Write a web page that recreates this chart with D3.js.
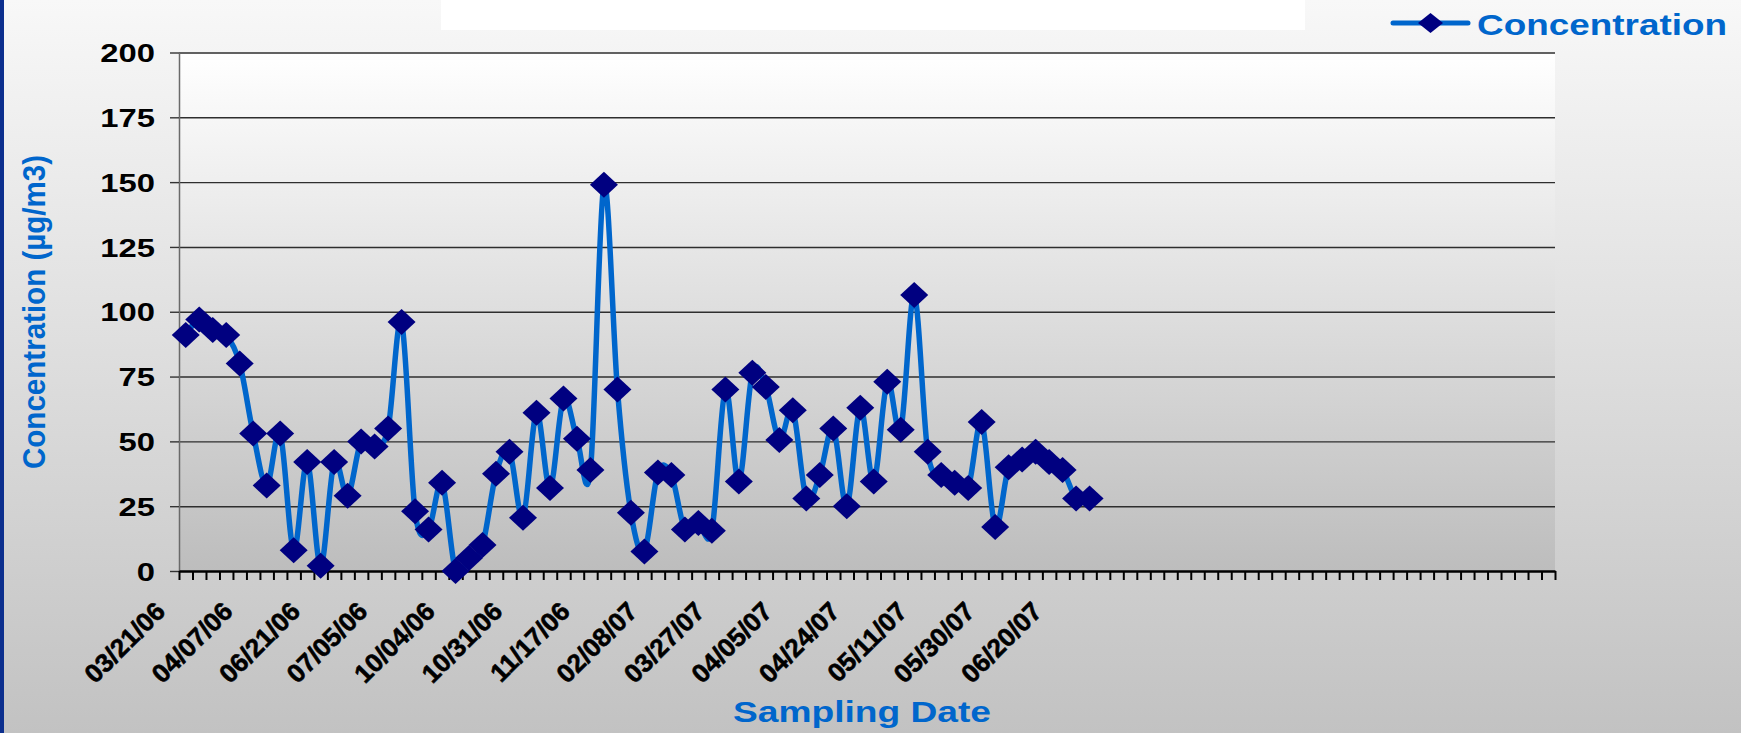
<!DOCTYPE html>
<html>
<head>
<meta charset="utf-8">
<script src="https://cdn.jsdelivr.net/npm/d3@7"></script>
<style>
  html, body { margin: 0; padding: 0; overflow: hidden; background: #d8d8d8; }
  svg { display: block; }
  text { font-family: "Liberation Sans", Arial, Helvetica, sans-serif; font-weight: bold; }
</style>
</head>
<body>
<svg id="chart" width="1741" height="733"></svg>
<script>
// Measured concentrations (µg/m3), one per sampling run, in sampling order
const concentration = [
  91, 97, 93, 91, 80, 53, 33, 53, 8, 42,
  2, 42, 29, 50, 48, 55, 96, 23, 16, 34,
  0, 5, 10, 37.5, 46, 20.5, 61, 32, 66.5, 51,
  39, 149, 70, 22.5, 7.5, 38, 37, 16, 18.5, 15.5,
  70, 34.5, 76.5, 71, 50.5, 62, 28, 37, 55, 25,
  63, 34.5, 73, 54.5, 106.5, 46, 37, 34, 32, 57.5,
  17, 40, 43, 46, 42, 39, 28, 28
];

// The worksheet range behind the category axis keeps empty rows after the last sample
const categorySlots = 102;

// Every fifth sampling date is printed under the axis
const dateLabels = [
  "03/21/06", "04/07/06", "06/21/06", "07/05/06", "10/04/06", "10/31/06", "11/17/06",
  "02/08/07", "03/27/07", "04/05/07", "04/24/07", "05/11/07", "05/30/07", "06/20/07"
];
const labelStep = 5;

const yTicks = [0, 25, 50, 75, 100, 125, 150, 175, 200];

const seriesName = "Concentration";
const xTitle = "Sampling Date";
const yTitle = "Concentration (µg/m3)";

// ---- layout ----
const W = 1741, H = 733;
const plot = { left: 179, right: 1555, top: 52.5, bottom: 571 };
const lineBlue = "#0066cc";
const markerNavy = "#000080";

const svg = d3.select("#chart");
const defs = svg.append("defs");

const bgGrad = defs.append("linearGradient").attr("id", "bgGrad")
  .attr("x1", 0).attr("y1", 0).attr("x2", 0).attr("y2", 1);
bgGrad.append("stop").attr("offset", "0%").attr("stop-color", "#f8f8f8");
bgGrad.append("stop").attr("offset", "100%").attr("stop-color", "#c2c2c2");

const plotGrad = defs.append("linearGradient").attr("id", "plotGrad")
  .attr("x1", 0).attr("y1", 0).attr("x2", 0).attr("y2", 1);
plotGrad.append("stop").attr("offset", "0%").attr("stop-color", "#ffffff");
plotGrad.append("stop").attr("offset", "100%").attr("stop-color", "#bdbdbd");

// slide background
svg.append("rect").attr("width", W).attr("height", H).attr("fill", "url(#bgGrad)");
svg.append("rect").attr("x", 0).attr("y", 0).attr("width", 4).attr("height", H).attr("fill", "#0c2f8e");
svg.append("rect").attr("x", 441).attr("y", 0).attr("width", 864).attr("height", 30).attr("fill", "#ffffff");

// ---- scales ----
const slots = d3.range(categorySlots);
const x = d3.scaleBand().domain(slots).range([plot.left, plot.right]).paddingInner(0).paddingOuter(0);
const xEdge = d3.scaleLinear().domain([0, categorySlots]).range([plot.left, plot.right]);
const y = d3.scaleLinear().domain([0, 200]).range([plot.bottom, plot.top]);

// plot area
svg.append("rect")
  .attr("x", plot.left).attr("y", plot.top)
  .attr("width", plot.right - plot.left).attr("height", plot.bottom - plot.top)
  .attr("fill", "url(#plotGrad)");

// horizontal gridlines
const grid = svg.append("g")
  .attr("transform", `translate(${plot.left},0)`)
  .call(d3.axisLeft(y).tickValues(yTicks.filter(v => v > 0)).tickSize(-(plot.right - plot.left)).tickFormat(""));
grid.select(".domain").remove();
grid.selectAll(".tick line").attr("stroke", "#2e2e2e").attr("stroke-width", 1.4);

// value axis
const yAxis = svg.append("g")
  .attr("transform", `translate(${plot.left},0)`)
  .call(d3.axisLeft(y).tickValues(yTicks).tickSize(9).tickPadding(0).tickSizeOuter(0));
yAxis.select(".domain").attr("stroke", "#6a6a6a").attr("stroke-width", 1.5);
yAxis.selectAll(".tick line").attr("stroke", "#333").attr("stroke-width", 1.4);
yAxis.selectAll(".tick text")
  .attr("fill", "#000")
  .attr("font-size", 25.6)
  .attr("text-anchor", "end")
  .attr("x", -24 / 1.28)
  .attr("dy", "0.36em")
  .attr("transform", "scale(1.28,1)");

// category axis: tick marks sit between categories
const xTicksAxis = svg.append("g")
  .attr("transform", `translate(0,${plot.bottom})`)
  .call(d3.axisBottom(xEdge).tickValues(d3.range(categorySlots + 1)).tickSize(9).tickSizeOuter(0).tickFormat(""));
xTicksAxis.select(".domain").attr("stroke", "#000").attr("stroke-width", 2.6);
xTicksAxis.selectAll(".tick line").attr("stroke", "#000").attr("stroke-width", 2);

// rotated date labels, heavy black type
const labelIdx = dateLabels.map((d, i) => i * labelStep);
const xLabels = svg.append("g")
  .attr("transform", `translate(0,${plot.bottom})`)
  .call(d3.axisBottom(x).tickValues(labelIdx).tickSize(0)
    .tickFormat(i => dateLabels[i / labelStep]));
xLabels.select(".domain").remove();
xLabels.selectAll(".tick text")
  .attr("fill", "#000")
  .attr("stroke", "#000")
  .attr("stroke-width", 0.6)
  .attr("font-size", 26)
  .attr("x", 0).attr("y", 0).attr("dy", 0)
  .attr("text-anchor", "end")
  .attr("transform", "translate(-19,42) rotate(-45)");

// ---- series ----
const pts = concentration.map((v, i) => ({ i, v }));
const line = d3.line()
  .x(d => x(d.i) + x.bandwidth() / 2)
  .y(d => y(d.v))
  .curve(d3.curveCatmullRom.alpha(0));

svg.append("path")
  .datum(pts)
  .attr("fill", "none")
  .attr("stroke", lineBlue)
  .attr("stroke-width", 5.5)
  .attr("stroke-linejoin", "round")
  .attr("d", line);

const diamond = (w, h) => `M0,${-h / 2}L${w / 2},0L0,${h / 2}L${-w / 2},0Z`;

svg.append("g").selectAll("path")
  .data(pts)
  .join("path")
  .attr("transform", d => `translate(${x(d.i) + x.bandwidth() / 2},${y(d.v)})`)
  .attr("d", diamond(28, 26))
  .attr("fill", markerNavy);

// ---- legend ----
const legend = svg.append("g").attr("transform", "translate(1393,23)");
legend.append("line").attr("x1", 0).attr("x2", 75).attr("y1", 0).attr("y2", 0)
  .attr("stroke", lineBlue).attr("stroke-width", 5).attr("stroke-linecap", "round");
legend.append("path").attr("transform", "translate(37.5,0)").attr("d", diamond(25, 20)).attr("fill", markerNavy);
legend.append("text").attr("x", 84).attr("y", 12)
  .attr("font-size", 30).attr("fill", lineBlue)
  .attr("textLength", 250).attr("lengthAdjust", "spacingAndGlyphs")
  .text(seriesName);

// ---- axis titles ----
svg.append("text")
  .attr("x", 862).attr("y", 722)
  .attr("text-anchor", "middle")
  .attr("font-size", 29).attr("fill", lineBlue)
  .attr("textLength", 258).attr("lengthAdjust", "spacingAndGlyphs")
  .text(xTitle);

svg.append("text")
  .attr("transform", "translate(45,312) rotate(-90)")
  .attr("text-anchor", "middle")
  .attr("font-size", 31).attr("fill", lineBlue)
  .attr("textLength", 314).attr("lengthAdjust", "spacingAndGlyphs")
  .text(yTitle);
</script>
</body>
</html>
